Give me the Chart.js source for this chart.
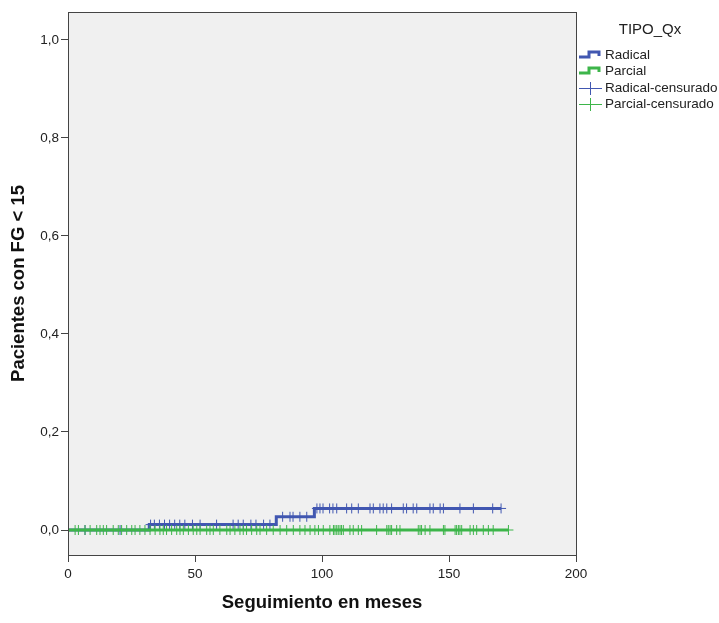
<!DOCTYPE html>
<html>
<head>
<meta charset="utf-8">
<script src="https://cdn.jsdelivr.net/npm/chart.js@4"></script>
<style>
  body { margin: 0; background: #fff; }
  #wrap { width: 719px; height: 623px; }
</style>
</head>
<body>
<div id="wrap"><canvas id="km" width="719" height="623"></canvas></div>
<script>
// incidencia acumulada por tipo de cirugia
var grupos = ["Radical", "Parcial"];
var coloresGrupo = ["#4157b1", "#3db54a"];
var tituloLeyenda = "TIPO_Qx";
var tituloX = "Seguimiento en meses";
var tituloY = "Pacientes con FG < 15";

// Radical: tiempos de evento y nivel acumulado despues de cada uno
var radicalEventos = [0, 32, 82, 97];
var radicalNivel = [0, 0.011, 0.027, 0.044];
var radicalFin = 170.5;
var radicalCensura = [6.7, 20.5, 32.5, 34, 36, 38, 40, 42, 44, 46, 49, 52, 58.5, 65, 67, 69, 72, 74, 77, 79.5,
  84.5, 87.4, 88.6, 91.3, 94, 98, 99.2, 100.4, 103, 104.3, 105.8, 109.7, 111.7, 114.3, 118.9, 120.2,
  122.8, 124.1, 125.5, 127.4, 132, 133.3, 135.9, 137.3, 142.5, 143.8, 146.5, 147.8, 154.3, 159.6, 167.2, 170.5];

// Parcial: sin eventos
var parcialEventos = [0];
var parcialNivel = [0];
var parcialFin = 173.4;
var parcialCensura = [2.8, 4.1, 6.7, 8.7, 11.3, 12.6, 13.9, 15.2, 17.8, 19.8, 21.1, 23.1, 25.1, 26.4, 28.3,
  30.3, 32.3, 34.3, 36.2, 37.5, 38.8, 40.8, 42.8, 44.1, 45.4, 47.4, 49.3, 50.7, 52, 54.6, 55.9, 57.2,
  59.8, 62.5, 63.8, 65.7, 67.7, 69, 70.3, 72.3, 74.3, 75.6, 78.2, 80.8, 83.5, 86.1, 88.7, 91.3, 93.3,
  95.3, 97.2, 98.6, 100.5, 103.1, 104.5, 105.1, 105.8, 106.4, 107.1, 107.7, 108.4, 111, 112.3, 114.3,
  115.6, 121.5, 125.5, 126.1, 126.8, 127.4, 129.4, 130.7, 137.9, 138.6, 139.2, 140.6, 142.5, 147.8,
  148.4, 152.4, 153, 153.7, 154.3, 155, 158.3, 159.6, 160.9, 163.5, 165.5, 167.4, 173.4];

var yTicks = [0, 0.2, 0.4, 0.6, 0.8, 1.0];
var xTicks = [0, 50, 100, 150, 200];

// escalera explicita: horizontal hasta el evento y luego sube
function escalera(eventos, nivel, fin) {
  var pts = [{x: eventos[0], y: nivel[0]}];
  for (var i = 1; i < eventos.length; i++) {
    pts.push({x: eventos[i], y: nivel[i - 1]});
    pts.push({x: eventos[i], y: nivel[i]});
  }
  pts.push({x: fin, y: nivel[nivel.length - 1]});
  return pts;
}

function nivelEn(t, eventos, nivel) {
  var v = nivel[0];
  for (var i = 0; i < eventos.length; i++) if (eventos[i] <= t) v = nivel[i];
  return v;
}

function censuras(tiempos, eventos, nivel) {
  return tiempos.map(function (t) { return {x: t, y: nivelEn(t, eventos, nivel)}; });
}

var coma = function (v) { return v.toFixed(1).replace('.', ','); };
var FUENTE = '"Liberation Sans", Arial, sans-serif';

var fondoPlot = {
  id: 'fondoPlot',
  beforeDraw: function (chart) {
    var a = chart.chartArea, ctx = chart.ctx;
    ctx.save();
    ctx.fillStyle = '#f0f0f0';
    ctx.fillRect(a.left, a.top, a.right - a.left, a.bottom - a.top);
    ctx.restore();
  },
  afterDraw: function (chart) {
    var a = chart.chartArea, ctx = chart.ctx;
    ctx.save();
    ctx.strokeStyle = '#444';
    ctx.lineWidth = 1;
    ctx.strokeRect(Math.round(a.left) + 0.5, Math.round(a.top) + 0.5,
      Math.round(a.right - a.left), Math.round(a.bottom - a.top));

    // titulos de ejes
    ctx.fillStyle = '#111';
    ctx.font = 'bold 18.5px ' + FUENTE;
    ctx.textAlign = 'center';
    ctx.textBaseline = 'middle';
    ctx.fillText(tituloX, (a.left + a.right) / 2, 603);
    ctx.save();
    ctx.translate(19, (a.top + a.bottom) / 2);
    ctx.rotate(-Math.PI / 2);
    ctx.fillText(tituloY, 0, 0);
    ctx.restore();

    // leyenda
    ctx.fillStyle = '#222';
    ctx.font = '15px ' + FUENTE;
    ctx.fillText(tituloLeyenda, 650, 30);
    ctx.textAlign = 'left';
    ctx.font = '13.5px ' + FUENTE;
    var filas = [55, 71, 88, 104];
    var x0 = 579;
    grupos.forEach(function (g, i) {
      var y = filas[i];
      ctx.strokeStyle = coloresGrupo[i];
      ctx.lineWidth = 3;
      ctx.beginPath();
      ctx.moveTo(x0, y + 2);
      ctx.lineTo(x0 + 10, y + 2);
      ctx.lineTo(x0 + 10, y - 3);
      ctx.lineTo(x0 + 20, y - 3);
      ctx.lineTo(x0 + 20, y + 1);
      ctx.stroke();
      ctx.fillText(g, x0 + 26, y);
    });
    grupos.forEach(function (g, i) {
      var y = filas[i + 2];
      ctx.strokeStyle = coloresGrupo[i];
      ctx.lineWidth = 1;
      ctx.beginPath();
      ctx.moveTo(x0, y + 0.5);
      ctx.lineTo(x0 + 23, y + 0.5);
      ctx.moveTo(x0 + 11.5, y - 6);
      ctx.lineTo(x0 + 11.5, y + 7);
      ctx.stroke();
      ctx.fillText(g + '-censurado', x0 + 26, y);
    });
    ctx.restore();
  }
};

Chart.defaults.font.family = FUENTE;
Chart.defaults.color = '#222';

new Chart(document.getElementById('km'), {
  type: 'scatter',
  data: {
    datasets: [
      {
        type: 'line', label: 'Parcial', order: 1,
        data: escalera(parcialEventos, parcialNivel, parcialFin),
        borderColor: coloresGrupo[1], borderWidth: 3, pointRadius: 0, fill: false
      },
      {
        label: 'Parcial-censurado', order: 0,
        data: censuras(parcialCensura, parcialEventos, parcialNivel),
        pointStyle: 'cross', pointRadius: 5, borderWidth: 1,
        borderColor: coloresGrupo[1], backgroundColor: coloresGrupo[1]
      },
      {
        type: 'line', label: 'Radical', order: 3,
        data: escalera(radicalEventos, radicalNivel, radicalFin),
        borderColor: coloresGrupo[0], borderWidth: 3, pointRadius: 0, fill: false
      },
      {
        label: 'Radical-censurado', order: 2,
        data: censuras(radicalCensura, radicalEventos, radicalNivel),
        pointStyle: 'cross', pointRadius: 5, borderWidth: 1,
        borderColor: coloresGrupo[0], backgroundColor: coloresGrupo[0]
      }
    ]
  },
  options: {
    responsive: false,
    animation: false,
    layout: { padding: { left: 0, right: 143, top: 12, bottom: 0 } },
    plugins: { legend: { display: false }, tooltip: { enabled: false } },
    scales: {
      x: {
        type: 'linear', min: 0, max: 200,
        afterBuildTicks: function (s) { s.ticks = xTicks.map(function (v) { return {value: v}; }); },
        afterFit: function (s) { s.height = 68; },
        grid: { drawOnChartArea: false, drawTicks: true, tickLength: 7, color: '#444' },
        border: { display: true, color: '#444' },
        ticks: { font: { size: 13.5 }, padding: 4, maxRotation: 0 }
      },
      y: {
        type: 'linear', min: -0.051, max: 1.057,
        afterBuildTicks: function (s) { s.ticks = yTicks.map(function (v) { return {value: v}; }); },
        afterFit: function (s) { s.width = 68; },
        grid: { drawOnChartArea: false, drawTicks: true, tickLength: 7, color: '#444' },
        border: { display: true, color: '#444' },
        ticks: { font: { size: 13.5 }, padding: 2, callback: function (v) { return coma(v); } }
      }
    }
  },
  plugins: [fondoPlot]
});
</script>
</body>
</html>
